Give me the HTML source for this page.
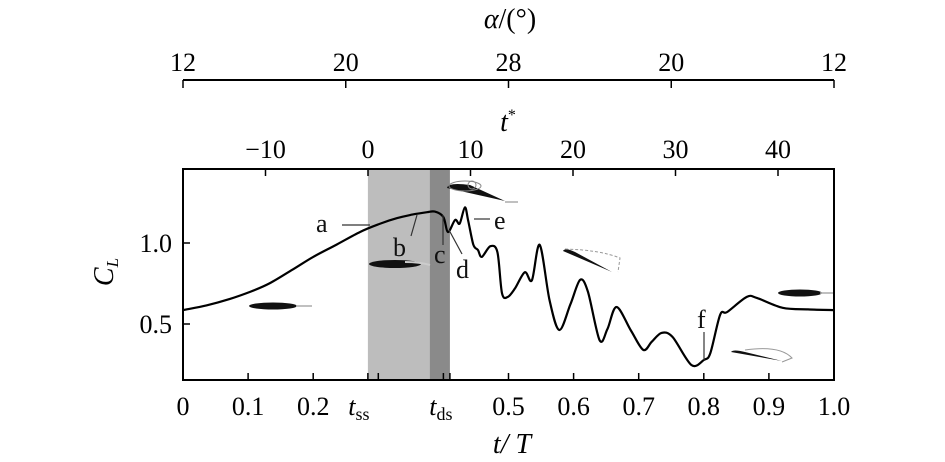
<!DOCTYPE html>
<html><head><meta charset="utf-8"><style>
html,body{margin:0;padding:0;background:#fff;}
svg{display:block;font-family:"Liberation Serif",serif;}
</style></head><body>
<svg id="chart" width="945" height="462" viewBox="0 0 945 462" xmlns="http://www.w3.org/2000/svg">
<g id="bands"></g>
<g id="glyphs">
  <g><ellipse cx="273" cy="306" rx="24" ry="3.5" fill="#111"/><line x1="296" y1="306" x2="312" y2="306" stroke="#aaa" stroke-width="1.5"/></g>
  <g><ellipse cx="395" cy="264" rx="26" ry="4" fill="#111"/><path d="M405 262 Q420 262 430 265" stroke="#ccc" stroke-width="2" fill="none"/></g>
  <g><path d="M447 188 Q448 182 470 185 L505 201 Z" fill="#111"/><ellipse cx="465" cy="186" rx="16" ry="5" fill="none" stroke="#888" stroke-width="1"/><circle cx="472" cy="185" r="4" fill="none" stroke="#888"/><line x1="505" y1="202" x2="518" y2="202" stroke="#aaa" stroke-width="1.5"/></g>
  <g><path d="M563 251 Q565 247 575 252 L612 272 Z" fill="#111"/><path d="M565 249 Q600 250 620 258 L618 272" stroke="#999" fill="none" stroke-width="1" stroke-dasharray="3,2"/></g>
  <g><path d="M731 352 Q733 349 745 352 L782 361 Z" fill="#111"/><path d="M745 350 Q780 345 792 358 L782 362" stroke="#999" fill="none" stroke-width="1"/></g>
  <g><ellipse cx="800" cy="293" rx="22" ry="3.5" fill="#111"/><line x1="820" y1="293" x2="834" y2="293" stroke="#aaa" stroke-width="1.5"/></g>
</g>
<g id="series"></g>
<g id="axes"></g>
<g id="annot" stroke="#333" stroke-width="1.2" font-size="26" fill="#111">
  <line x1="342" y1="225" x2="370" y2="225"/><text x="316" y="232" stroke="none">a</text>
  <line x1="417" y1="215" x2="411" y2="236"/><text x="393" y="256" stroke="none">b</text>
  <line x1="443" y1="215" x2="443" y2="245"/><text x="434" y="263" stroke="none">c</text>
  <line x1="449" y1="230" x2="462" y2="254"/><text x="456" y="278" stroke="none">d</text>
  <line x1="474" y1="219" x2="490" y2="219"/><text x="494" y="229" stroke="none">e</text>
  <line x1="704" y1="332" x2="704" y2="360"/><text x="697" y="328" stroke="none">f</text>
</g>
</svg>
<script>
var tVals = [0,0.036,0.072,0.104,0.134,0.168,0.2,0.236,0.272,0.3,0.329,0.352,0.375,0.387,0.4,0.407,0.418,0.425,0.433,0.438,0.446,0.453,0.459,0.472,0.483,0.49,0.499,0.51,0.525,0.536,0.548,0.563,0.578,0.595,0.61,0.622,0.64,0.652,0.666,0.688,0.707,0.72,0.735,0.752,0.781,0.8,0.81,0.825,0.836,0.866,0.882,0.921,0.96,1.0];
var clVals = [0.586,0.615,0.655,0.70,0.753,0.835,0.914,0.99,1.068,1.115,1.154,1.175,1.19,1.194,1.16,1.068,1.142,1.12,1.22,1.14,0.99,0.957,0.914,0.98,0.944,0.69,0.667,0.72,0.82,0.77,0.988,0.648,0.463,0.62,0.772,0.70,0.4,0.47,0.605,0.46,0.34,0.39,0.445,0.42,0.247,0.278,0.32,0.556,0.574,0.667,0.66,0.6,0.59,0.586];
var xTicks = [0,0.1,0.2,0.3,0.4,0.5,0.6,0.7,0.8,0.9,1.0];
var xTickLabels = ["0","0.1","0.2","","","0.5","0.6","0.7","0.8","0.9","1.0"];
var yTicks = [0.5,1.0];
var yTickLabels = ["0.5","1.0"];
var tStarTicks = [-10,0,10,20,30,40];
var alphaTickPos = [0,0.25,0.5,0.75,1.0];
var alphaTickLabels = ["12","20","28","20","12"];
var stallTimes = [0.284, 0.379, 0.410];

(function(){
var tss = stallTimes[0], tvis = stallTimes[1], tds = stallTimes[2];
var X0=183, X1=834, Y0=380, Y1=169;
function sx(t){ return X0 + t*(X1-X0); }
function sy(c){ return 243 - (c-1.0)*162; }
function st(s){ return 368 + s*10.25; }
var NS="http://www.w3.org/2000/svg";
function mk(tag, attrs, parent, txt){var e=document.createElementNS(NS,tag);for(var k in attrs)e.setAttribute(k,attrs[k]);if(txt!==undefined)e.textContent=txt;parent.appendChild(e);return e;}
var bands=document.getElementById('bands'), series=document.getElementById('series'), axes=document.getElementById('axes');
var FS=26;

var b1=mk('rect',{x:sx(tss),y:Y1,width:sx(tvis)-sx(tss),height:Y0-Y1,fill:'#bdbdbd'},bands);


var b2=mk('rect',{x:sx(tvis),y:Y1,width:sx(tds)-sx(tvis),height:Y0-Y1,fill:'#8a8a8a'},bands);



var n=Math.min(tVals.length, clVals.length);
var pts=[];
for(var i=0;i<n;i++) pts.push([sx(tVals[i]), sy(clVals[i])]);
var path='M'+pts[0][0].toFixed(1)+' '+pts[0][1].toFixed(1);
for(var j=0;j<pts.length-1;j++){
  var p0=pts[Math.max(0,j-1)],p1=pts[j],p2=pts[j+1],p3=pts[Math.min(pts.length-1,j+2)];
  var kk=0.16;
  path+=' C'+(p1[0]+(p2[0]-p0[0])*kk).toFixed(1)+' '+(p1[1]+(p2[1]-p0[1])*kk).toFixed(1)+' '+(p2[0]-(p3[0]-p1[0])*kk).toFixed(1)+' '+(p2[1]-(p3[1]-p1[1])*kk).toFixed(1)+' '+p2[0].toFixed(1)+' '+p2[1].toFixed(1);
}
var ln=mk('path',{d:path,fill:'none',stroke:'#000','stroke-width':2.2,'stroke-linejoin':'round'},series);



var fr=mk('rect',{x:X0,y:Y1,width:X1-X0,height:Y0-Y1,fill:'none',stroke:'#000','stroke-width':2},axes);



xTicks.forEach(function(t,i){
  mk('line',{x1:sx(t),y1:Y0,x2:sx(t),y2:Y0-7,stroke:'#000','stroke-width':1.5},axes);
  if(xTickLabels[i]){var tx=mk('text',{x:sx(t),y:415,'text-anchor':'middle','font-size':FS},axes,xTickLabels[i]);
  
  }
});
[[tss,'ss'],[tds,'ds']].forEach(function(a){
  var t=a[0], s=a[1];
  mk('line',{x1:sx(t),y1:Y0,x2:sx(t),y2:Y0-7,stroke:'#000','stroke-width':1.5},axes);
  var tx=mk('text',{x:sx(t)-9,y:415,'text-anchor':'middle','font-size':FS,'font-style':'italic'},axes,'t');
  
  
  mk('tspan',{'font-size':18,'font-style':'normal',dy:5},tx,s);
});
yTicks.forEach(function(c,i){
  mk('line',{x1:X0,y1:sy(c),x2:X0+7,y2:sy(c),stroke:'#000','stroke-width':1.5},axes);
  var tx=mk('text',{x:172,y:sy(c)+9,'text-anchor':'end','font-size':FS},axes,yTickLabels[i]);
  
  
});
tStarTicks.forEach(function(s){
  mk('line',{x1:st(s),y1:Y1,x2:st(s),y2:Y1+7,stroke:'#000','stroke-width':1.5},axes);
  var tx=mk('text',{x:st(s),y:158,'text-anchor':'middle','font-size':FS},axes,(s<0?'\u2212'+(-s):String(s)));
  
  
});
var al=mk('line',{x1:X0,y1:80,x2:X1,y2:80,stroke:'#000','stroke-width':2},axes);


alphaTickPos.forEach(function(p,i){
  mk('line',{x1:sx(p),y1:80,x2:sx(p),y2:88,stroke:'#000','stroke-width':1.5},axes);
  var tx=mk('text',{x:sx(p),y:71,'text-anchor':'middle','font-size':FS},axes,alphaTickLabels[i]);
  
  
});
var t1=mk('text',{x:512,y:453,'text-anchor':'middle','font-size':28,'font-style':'italic'},axes,'t/ T');


var t2=mk('text',{x:508,y:131,'text-anchor':'middle','font-size':28,'font-style':'italic'},axes,'t');


mk('tspan',{'font-size':16,'font-style':'normal',dy:-11},t2,'*');
var t3=mk('text',{x:510,y:28,'text-anchor':'middle','font-size':28},axes,'');


mk('tspan',{'font-style':'italic'},t3,'\u03b1');
mk('tspan',{},t3,'/(\u00b0)');
var t4=mk('text',{x:0,y:0,'text-anchor':'middle','font-size':28,'font-style':'italic',transform:'translate(113,272) rotate(-90)'},axes,'C');


mk('tspan',{'font-size':17,dy:5},t4,'L');
})();
</script>
</body></html>
